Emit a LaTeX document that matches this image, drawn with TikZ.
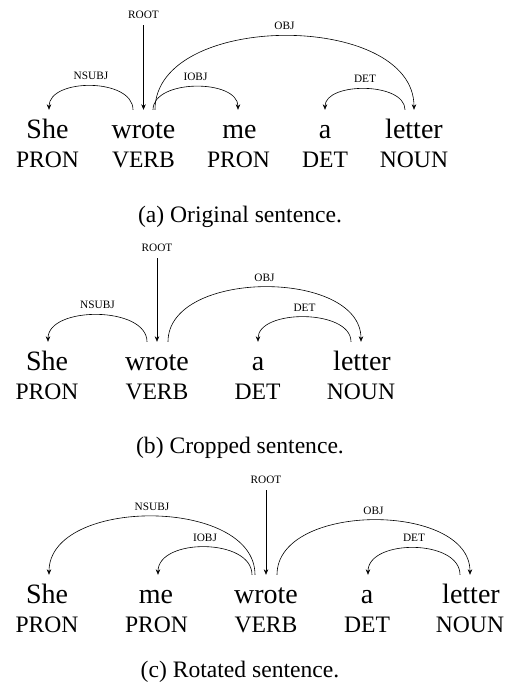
\documentclass[tikz,border=0pt]{standalone}
\usepackage{fontspec}
\setmainfont{Liberation Serif}
\usetikzlibrary{arrows.meta}
\tikzset{
  word/.style={font=\fontsize{28}{30}\selectfont, anchor=base, inner xsep=0pt, inner ysep=9pt, text height=19pt, text depth=6pt},
  tag/.style={font=\fontsize{23.6}{26}\selectfont, anchor=base, inner sep=0pt},
  caption/.style={font=\fontsize{23.6}{26}\selectfont, anchor=base, inner sep=0pt},
  rootlab/.style={font=\fontsize{11.3}{13}\selectfont, anchor=base, inner sep=0pt},
  arclab/.style={font=\fontsize{11.3}{13}\selectfont, midway, anchor=base, yshift=6pt, inner sep=0pt},
  arr/.style={line width=0.6pt, -{Stealth[length=5.5pt,width=4.5pt]}}
}
\begin{document}
\begin{tikzpicture}[x=1pt,y=-1pt]
\useasboundingbox (0,0) rectangle (505,691);
% ---------- (a) ----------
\node[word] (aW1) at (47.5,138) {She};
\node[word] (aW2) at (143.5,138) {wrote};
\node[word] (aW3) at (239.5,138) {me};
\node[word] (aW4) at (325,138) {a};
\node[word] (aW5) at (414,138) {letter};
\node[tag] (aT1) at (47.5,167) {PRON};
\node[tag] (aT2) at (143.5,167) {VERB};
\node[tag] (aT3) at (238.5,167) {PRON};
\node[tag] (aT4) at (325,167) {DET};
\node[tag] (aT5) at (414,167) {NOUN};
\node[rootlab] (aRoot) at (143.5,18) {ROOT};
\draw[arr] ([yshift=-7pt]aRoot.base) -- (aW2.north);
\draw[arr] ([xshift=-10.5pt]aW2.north) .. controls +(0,-32) and +(0,-32) .. ([xshift=1.5pt]aW1.north) node[arclab] {NSUBJ};
\draw[arr] ([xshift=9.5pt]aW2.north) .. controls +(0,-31) and +(0,-31) .. ([xshift=-1.5pt]aW3.north) node[arclab] {IOBJ};
\draw[arr] ([xshift=11.5pt]aW2.north) .. controls +(0,-98.7) and +(0,-98.7) .. (aW5.north) node[arclab] {OBJ};
\draw[arr] ([xshift=-9pt]aW5.north) .. controls +(0,-28) and +(0,-28) .. (aW4.north) node[arclab] {DET};
\node[caption] (capA) at (240,222) {(a) Original sentence.};
% ---------- (b) ----------
\node[word] (bW1) at (47,370) {She};
\node[word] (bW2) at (157,370) {wrote};
\node[word] (bW3) at (258,370) {a};
\node[word] (bW4) at (362,370) {letter};
\node[tag] (bT1) at (47,399) {PRON};
\node[tag] (bT2) at (157,399) {VERB};
\node[tag] (bT3) at (257.5,399) {DET};
\node[tag] (bT4) at (361,399) {NOUN};
\node[rootlab] (bRoot) at (157,251) {ROOT};
\draw[arr] ([yshift=-7pt]bRoot.base) -- (bW2.north);
\draw[arr] ([xshift=-10pt]bW2.north) .. controls +(0,-36) and +(0,-36) .. ([xshift=1pt]bW1.north) node[arclab] {NSUBJ};
\draw[arr] ([xshift=11pt]bW2.north) .. controls +(0,-73) and +(0,-73) .. ([xshift=-1pt]bW4.north) node[arclab] {OBJ};
\draw[arr] ([xshift=-11pt]bW4.north) .. controls +(0,-33) and +(0,-33) .. (bW3.north) node[arclab] {DET};
\node[caption] (capB) at (240,453) {(b) Cropped sentence.};
% ---------- (c) ----------
\node[word] (cW1) at (47,603) {She};
\node[word] (cW2) at (156,603) {me};
\node[word] (cW3) at (266,603) {wrote};
\node[word] (cW4) at (367,603) {a};
\node[word] (cW5) at (471,603) {letter};
\node[tag] (cT1) at (47,632.5) {PRON};
\node[tag] (cT2) at (156.5,632.5) {PRON};
\node[tag] (cT3) at (266,632.5) {VERB};
\node[tag] (cT4) at (367,632.5) {DET};
\node[tag] (cT5) at (470,632.5) {NOUN};
\node[rootlab] (cRoot) at (266,483) {ROOT};
\draw[arr] ([yshift=-7pt]cRoot.base) -- (cW3.north);
\draw[arr] ([xshift=-11pt]cW3.north) .. controls +(0,-78) and +(0,-78) .. ([xshift=2pt]cW1.north) node[arclab] {NSUBJ};
\draw[arr] ([xshift=-14pt]cW3.north) .. controls +(0,-37) and +(0,-37) .. ([xshift=2pt]cW2.north) node[arclab] {IOBJ};
\draw[arr] ([xshift=11pt]cW3.north) .. controls +(0,-73) and +(0,-73) .. ([xshift=-1pt]cW5.north) node[arclab] {OBJ};
\draw[arr] ([xshift=-11pt]cW5.north) .. controls +(0,-36) and +(0,-36) .. ([xshift=1pt]cW4.north) node[arclab] {DET};
\node[caption] (capC) at (240,677) {(c) Rotated sentence.};
\end{tikzpicture}
\end{document}
